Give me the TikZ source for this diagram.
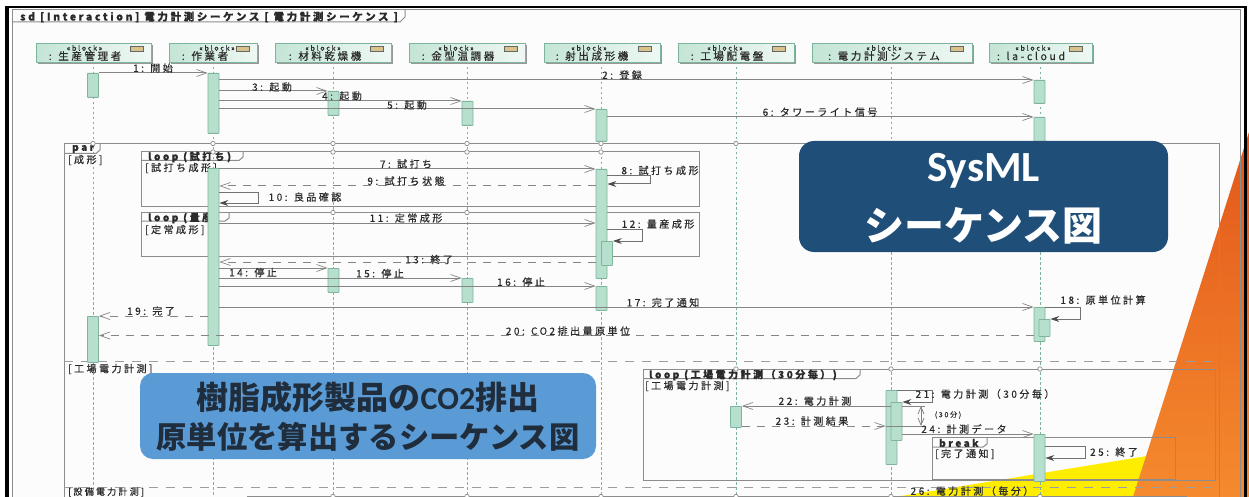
\documentclass[tikz,border=0pt]{standalone}
\usepackage{fontspec}
\setmainfont{Carlito}
\newfontfamily\labelfont[LetterSpace=25,FakeBold=0.35]{Noto Sans CJK JP}
\newfontfamily\titlefont{Noto Sans CJK JP}
\newfontfamily\capfont{Carlito}
\usetikzlibrary{shadows}
\usetikzlibrary{arrows.meta,shapes}
\definecolor{linegray}{HTML}{8C8C8C}
\definecolor{msggray}{HTML}{858585}
\definecolor{lifegreen}{HTML}{7DB3A2}
\definecolor{barfill}{HTML}{B7DFCD}
\definecolor{bardraw}{HTML}{7FB59C}
\definecolor{headleft}{HTML}{C4E5D6}
\definecolor{headright}{HTML}{EFF8F4}
\definecolor{icontan}{HTML}{D8C48A}
\definecolor{darkbox}{HTML}{1F4E79}
\definecolor{lightbox}{HTML}{5B9BD5}
\definecolor{boxtext}{HTML}{1F2D3D}
\definecolor{labeltext}{HTML}{2A2A2A}
\definecolor{slideorange}{HTML}{F58A2E}
\definecolor{slidered}{HTML}{E2571A}
\tikzset{
  lifehead/.style={draw=bardraw,line width=0.8pt,left color=headleft,right color=headright,minimum height=19pt,inner sep=0pt,anchor=north west,drop shadow={shadow xshift=2pt,shadow yshift=-2pt,fill=gray,opacity=0.8}},
  stereo/.style={font=\labelfont\fontsize{7}{8}\selectfont,text=labeltext,inner sep=0pt},
  headname/.style={font=\labelfont\fontsize{10.5}{12}\selectfont,text=labeltext,inner sep=0pt},
  headicon/.style={draw=black!60,fill=icontan,minimum width=13pt,minimum height=5pt,inner sep=0pt},
  lifeline/.style={lifegreen,thick,dash pattern=on 2.5pt off 2.5pt},
  actbar/.style={draw=bardraw,line width=0.8pt,fill=barfill,minimum width=11pt,minimum height=#1,inner sep=0pt,anchor=north,rounded corners=0.5pt},
  msg/.style={msggray,line width=1pt,-{Straight Barb[length=10pt,width=7pt,line width=0.7pt]}},
  retmsg/.style={msggray,line width=1pt,dash pattern=on 8pt off 7pt,-{Straight Barb[length=10pt,width=7pt,line width=0.7pt,sep=0pt]}},
  selfmsg/.style={msggray!85!black,line width=1pt,-{Stealth[length=9pt,width=6pt,black!70]}},
  fragframe/.style={linegray,line width=1pt},
  sepline/.style={msggray!80,line width=1pt,dash pattern=on 9pt off 8pt},
  pinmark/.style={linegray,fill=white,line width=0.7pt},
  msglabel/.style={font=\labelfont\fontsize{10}{12}\selectfont,text=labeltext,inner sep=0pt},
  fraglabel/.style={font=\labelfont\bfseries\fontsize{10}{12}\selectfont,text=labeltext,inner sep=0pt,anchor=west},
}
\begin{document}
\begin{tikzpicture}[x=1pt,y=-1pt]
\useasboundingbox (0,0) rectangle (1249,497);
\clip (0,0) rectangle (1249,497);

% slide behind the screenshot
\fill[white] (0,0) rectangle (1249,497);
\fill[black!1] (12,10) rectangle (1240,497);
\fill[yellow!95!orange] (1147,456) -- (895,497) -- (1147,497) -- cycle;
\shade[top color=slidered,bottom color=slideorange] (1249,132) -- (1133,497) -- (1249,497) -- cycle;

% outer frame
\fill[black] (5,6) rectangle (1247,8.5);
\fill[black] (5,6) rectangle (9,497);
\fill[black] (1243.5,6) rectangle (1247,497);
\draw[fragframe] (12,497) -- (12,10) -- (1240,10) -- (1240,497);
\draw[fragframe] (13,22) -- (400,22) -- (405,17) -- (405,10);
\node[fraglabel,font=\labelfont\bfseries\fontsize{10.5}{12}\selectfont] (sdtitle) at (20,17) {sd [Interaction] 電力計測シーケンス [ 電力計測シーケンス ]};

% block heads
\node[lifehead,minimum width=115pt] (prod) at (36,43) {};
\node[lifehead,minimum width=88pt] (worker) at (169,43) {};
\node[lifehead,minimum width=116pt] (dryer) at (275,43) {};
\node[lifehead,minimum width=116pt] (mold) at (409,43) {};
\node[lifehead,minimum width=116pt] (press) at (544,43) {};
\node[lifehead,minimum width=116pt] (panel) at (678,43) {};
\node[lifehead,minimum width=160pt] (meter) at (812,43) {};
\node[lifehead,minimum width=103pt] (cloud) at (989,43) {};

\node[stereo] (prodst) at (84.5,48) {«block»};
\node[stereo] (workerst) at (217,48) {«block»};
\node[stereo] (dryerst) at (323,48) {«block»};
\node[stereo] (moldst) at (456,48) {«block»};
\node[stereo] (pressst) at (589,48) {«block»};
\node[stereo] (panelst) at (725,48) {«block»};
\node[stereo] (meterst) at (884,48) {«block»};
\node[stereo] (cloudst) at (1033,48) {«block»};

\node[headname] (prodname) at (85,56) {: 生産管理者};
\node[headname] (workername) at (205,56) {: 作業者};
\node[headname] (dryername) at (325,56) {: 材料乾燥機};
\node[headname] (moldname) at (458,56) {: 金型温調器};
\node[headname] (pressname) at (592,56) {: 射出成形機};
\node[headname] (panelname) at (727,56) {: 工場配電盤};
\node[headname] (metername) at (884,56) {: 電力計測システム};
\node[headname] (cloudname) at (1031,56) {: la-cloud};

\node[headicon] (prodicon) at (137,49) {};
\node[headicon] (workericon) at (242.5,49) {};
\node[headicon] (dryericon) at (376.5,49) {};
\node[headicon] (moldicon) at (510.5,49) {};
\node[headicon] (pressicon) at (644.5,49) {};
\node[headicon] (panelicon) at (779,49) {};
\node[headicon] (metericon) at (956.5,49) {};
\node[headicon] (cloudicon) at (1075.5,49) {};

% lifelines
\draw[lifeline] (93,62) -- (93,497);
\draw[lifeline] (213,62) -- (213,497);
\draw[lifeline] (333,62) -- (333,497);
\draw[lifeline] (467,62) -- (467,497);
\draw[lifeline] (601,62) -- (601,497);
\draw[lifeline] (736,62) -- (736,497);
\draw[lifeline] (891,62) -- (891,497);
\draw[lifeline] (1040,62) -- (1040,497);

% fragments
\draw[fragframe] (64,497) -- (64,143.5) -- (1219,143.5) -- (1219,497);
\draw[fragframe] (64,153.5) -- (96,153.5) -- (100,150) -- (100,143.5);
\node[fraglabel] (parlabel) at (72,149) {par};
\node[msglabel,anchor=west] (parguard) at (68,160) {[成形]};

\draw[fragframe] (141.5,152) rectangle (699.5,206.5);
\draw[fragframe] (141.5,160.5) -- (239,160.5) -- (243,157) -- (243,152);
\node[fraglabel] (looptest) at (148,157) {loop (試打ち)};
\node[msglabel,anchor=west] (testguard) at (145,168) {[試打ち成形]};

\draw[fragframe] (141.5,212.5) rectangle (699.5,256);
\draw[fragframe] (141.5,221) -- (225,221) -- (229,218) -- (229,212.5);
\node[fraglabel] (loopmass) at (148,218) {loop (量産)};
\node[msglabel,anchor=west] (massguard) at (145,230) {[定常成形]};

\draw[sepline] (64,361.5) -- (1219,361.5);
\node[msglabel,anchor=west] (factoryguard) at (68,369) {[工場電力計測]};
\draw[sepline] (64,487.5) -- (1219,487.5);
\node[msglabel,anchor=west,font=\labelfont\fontsize{9}{10}\selectfont] (equipguard) at (68,492) {[設備電力計測]};
\draw[fragframe] (247,496.5) -- (1187,496.5);

\draw[fragframe] (643,369) rectangle (1215,480);
\draw[fragframe] (643,378.5) -- (856,378.5) -- (860,375) -- (860,369);
\node[fraglabel] (loopfactory) at (649,375) {loop (工場電力計測（30分毎）)};
\node[msglabel,anchor=west] (factoryguardb) at (645,386) {[工場電力計測]};

\draw[fragframe] (932.5,437) rectangle (1175,479);
\draw[fragframe] (932.5,447) -- (983,447) -- (987,444) -- (987,437);
\node[fraglabel] (breaklabel) at (939,443) {break};
\node[msglabel,anchor=west] (breakguard) at (935,454) {[完了通知]};

% lifeline marks
\draw[pinmark] (93,143.5) circle (2.2);
\draw[pinmark] (213,143.5) circle (2.2);
\draw[pinmark] (333,143.5) circle (2.2);
\draw[pinmark] (467,143.5) circle (2.2);
\draw[pinmark] (601,143.5) circle (2.2);
\draw[pinmark] (736,143.5) circle (2.2);
\draw[pinmark] (213,152) circle (2.2);
\draw[pinmark] (333,152) circle (2.2);
\draw[pinmark] (467,152) circle (2.2);
\draw[pinmark] (601,152) circle (2.2);
\draw[pinmark] (333,212.5) circle (2.2);
\draw[pinmark] (467,212.5) circle (2.2);
\draw[pinmark] (601,212.5) circle (2.2);
\draw[pinmark] (736,369) circle (2.2);
\draw[pinmark] (891,369) circle (2.2);
\draw[pinmark] (1040,369) circle (2.2);
\draw[pinmark] (333,496.5) circle (2.2);
\draw[pinmark] (467,496.5) circle (2.2);
\draw[pinmark] (601,496.5) circle (2.2);
\draw[pinmark] (736,496.5) circle (2.2);
\draw[pinmark] (891,496.5) circle (2.2);
\draw[pinmark] (1040,496.5) circle (2.2);

% activation bars
\node[actbar=24pt] (prodA) at (93,73) {};
\node[actbar=46pt] (prodB) at (93,316) {};
\node[actbar=60pt] (workerA) at (213.5,73) {};
\node[actbar=177pt] (workerB) at (213.5,168) {};
\node[actbar=24pt] (dryerA) at (333.5,91) {};
\node[actbar=24pt] (dryerB) at (333.5,268) {};
\node[actbar=24pt] (moldA) at (467.5,101) {};
\node[actbar=24pt] (moldB) at (467.5,278) {};
\node[actbar=32pt] (pressA) at (601.5,109) {};
\node[actbar=109pt] (pressB) at (601.5,169) {};
\node[actbar=24pt] (pressC) at (607,241) {};
\node[actbar=24pt] (pressD) at (601.5,286) {};
\node[actbar=21pt] (panelA) at (736,406) {};
\node[actbar=74pt] (meterA) at (891.5,390) {};
\node[actbar=38pt] (meterB) at (896.5,402) {};
\node[actbar=23pt] (cloudA) at (1039.5,80) {};
\node[actbar=25pt] (cloudB) at (1039.5,117) {};
\node[actbar=34pt] (cloudC) at (1039.5,307) {};
\node[actbar=17pt] (cloudD) at (1044.5,319) {};
\node[actbar=47pt] (cloudE) at (1039.5,434) {};

% messages
\draw[msg] (prodA.north east) -- (workerA.north west);
\node[msglabel] (m1) at (153,68) {1: 開始};
\draw[msg] (workerA.east |- 0,80) -- (cloudA.north west);
\node[msglabel] (m2) at (622,75) {2: 登録};
\draw[msg] (workerA.east |- 0,91) -- (dryerA.north west);
\node[msglabel] (m3) at (272,87) {3: 起動};
\draw[msg] (workerA.east |- 0,101) -- (moldA.north west);
\node[msglabel] (m4) at (342,96) {4: 起動};
\draw[msg] (workerA.east |- 0,109) -- (pressA.north west);
\node[msglabel] (m5) at (407,105) {5: 起動};
\draw[msg] (pressA.east |- 0,117) -- (cloudB.north west);
\node[msglabel] (m6) at (820,112) {6: タワーライト信号};

\draw[msg] (workerB.east |- 0,169) -- (pressB.north west);
\node[msglabel] (m7) at (406,164) {7: 試打ち};
\draw[selfmsg] (pressB.east |- 0,175.5) -| (650,184) -- (pressB.east |- 0,184);
\node[msglabel] (m8) at (660,170.5) {8: 試打ち成形};
\draw[retmsg] (pressB.west |- 0,186) -- (workerB.east |- 0,186);
\node[msglabel] (m9) at (406,181) {9: 試打ち状態};
\draw[selfmsg] (workerB.east |- 0,192) -| (258,203) -- (workerB.east |- 0,203);
\node[msglabel] (m10) at (305,197) {10: 良品確認};

\draw[msg] (workerB.east |- 0,223) -- (pressB.west |- 0,223);
\node[msglabel] (m11) at (406,218) {11: 定常成形};
\draw[selfmsg] (pressB.east |- 0,229) -| (642,241) -- (pressC.north east);
\node[msglabel] (m12) at (658,224) {12: 量産成形};
\draw[retmsg] (pressB.west |- 0,262) -- (workerB.east |- 0,262);
\node[msglabel] (m13) at (429,259.5) {13: 終了};

\draw[msg] (workerB.east |- 0,268) -- (dryerB.north west);
\node[msglabel] (m14) at (253,272.5) {14: 停止};
\draw[msg] (workerB.east |- 0,278) -- (moldB.north west);
\node[msglabel] (m15) at (380,273.5) {15: 停止};
\draw[msg] (workerB.east |- 0,286) -- (pressD.north west);
\node[msglabel] (m16) at (521,282) {16: 停止};
\draw[msg] (workerB.east |- 0,307) -- (cloudC.north west);
\node[msglabel] (m17) at (663,302.5) {17: 完了通知};
\draw[selfmsg] (cloudC.north east) -| (1080,319) -- (cloudD.north east);
\node[msglabel] (m18) at (1103,300) {18: 原単位計算};
\draw[retmsg] (workerB.west |- 0,316) -- (prodB.north east);
\node[msglabel] (m19) at (151,311) {19: 完了};
\draw[retmsg] (cloudC.west |- 0,335.5) -- (prodB.east |- 0,335.5);
\node[msglabel] (m20) at (568,331) {20: CO2排出量原単位};

\draw[selfmsg] (meterA.north east) -| (932,402) -- (meterB.north east);
\node[msglabel] (m21) at (985,394) {21: 電力計測（30分毎）};
\draw[msg] (meterB.west |- 0,406) -- (panelA.north east);
\node[msglabel] (m22) at (815,401) {22: 電力計測};
\draw[retmsg] (panelA.east |- 0,426) -- (meterA.west |- 0,426);
\node[msglabel] (m23) at (812,421) {23: 計測結果};
\draw[msggray,line width=0.8pt] (meterB.east |- 0,406) -- (925,406);
\draw[msggray,line width=0.8pt] (meterA.west |- 0,426) -- (925,426);
\draw[msggray,line width=0.8pt,{Straight Barb[length=7pt,width=6pt]}-{Straight Barb[length=7pt,width=6pt]}] (921,406) -- (921,426);
\node[msglabel,font=\labelfont\fontsize{7}{8}\selectfont] (span) at (948,415) {(30分)};
\draw[msg] (meterB.east |- 0,434) -- (cloudE.north west);
\node[msglabel] (m24) at (964,429) {24: 計測データ};
\draw[selfmsg] (cloudE.east |- 0,446) -| (1085,458) -- (cloudE.east |- 0,458);
\node[msglabel] (m25) at (1114,452) {25: 終了};
\node[msglabel] (m26) at (972,491) {26: 電力計測（毎分）};

% slide captions
\node[fill=darkbox,rounded corners=15pt,minimum width=369pt,minimum height=111pt,inner sep=0pt] (sysmlbox) at (983.5,196.5) {};
\node[text=white,font=\bfseries\fontsize{43}{44}\selectfont,inner sep=0pt] (sysmltext) at (983.5,171) {SysML};
\node[text=white,font=\titlefont\bfseries\fontsize{40}{44}\selectfont,inner sep=0pt] (seqtext) at (983.5,226) {シーケンス図};
\node[fill=lightbox,rounded corners=13pt,minimum width=456pt,minimum height=86pt,inner sep=0pt] (capbox) at (368,416) {};
\node[text=boxtext,font=\titlefont\bfseries\fontsize{32}{34}\selectfont,inner sep=0pt] (capa) at (368,397) {樹脂成形製品の{\capfont\bfseries CO2}排出};
\node[text=boxtext,font=\titlefont\bfseries\fontsize{30.3}{34}\selectfont,inner sep=0pt] (capb) at (368,437) {原単位を算出するシーケンス図};
\end{tikzpicture}
\end{document}
